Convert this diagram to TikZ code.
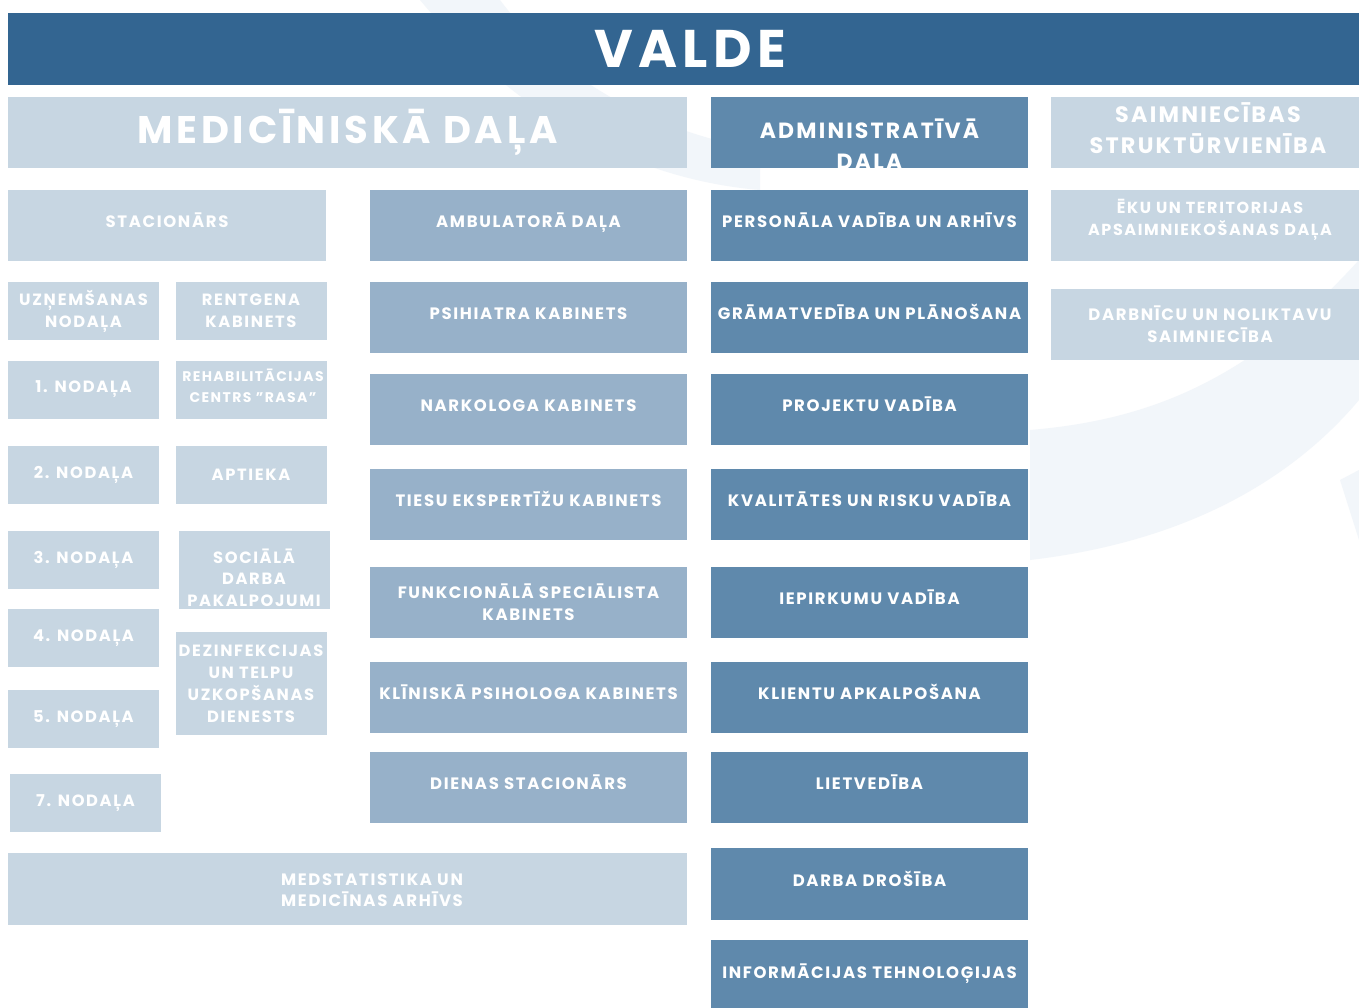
\documentclass[tikz,border=0pt]{standalone}
\usepackage{fontspec}
\setmainfont{Poppins}[LetterSpace=10]
\definecolor{valdeblue}{RGB}{51,101,145}
\definecolor{paleblue}{RGB}{199,214,226}
\definecolor{midblue}{RGB}{151,177,201}
\definecolor{admblue}{RGB}{95,137,172}
\definecolor{swoosh}{RGB}{242,246,250}
\begin{document}
\begin{tikzpicture}[x=1pt,y=-1pt,
    box/.style={inner sep=0pt, align=center, text=white, font=\bfseries\fontsize{16.5}{22}\selectfont},
    bigbox/.style={box, minimum width=317pt, minimum height=71pt},
    rowbox/.style={bigbox, text height=8pt, text depth=4pt},
    smallbox/.style={box, fill=paleblue, minimum width=151pt, minimum height=58pt, font=\bfseries\fontsize{16.3}{22}\selectfont},
    headbox/.style={box, minimum height=71pt, font=\bfseries\fontsize{22}{31}\selectfont}]
            \useasboundingbox (0,0) rectangle (1359,1008);
            \fill[white] (0,0) rectangle (1359,1008);
            % faint background swooshes
            \fill[swoosh] (420,0) .. controls (520,120) and (640,180) .. (760,190) -- (760,150) .. controls (650,130) and (560,80) .. (500,0) -- cycle;
            \fill[swoosh] (1030,560) .. controls (1200,540) and (1300,470) .. (1359,400) -- (1359,260) .. controls (1250,380) and (1150,420) .. (1030,430) -- cycle;
            \fill[swoosh] (1340,480) .. controls (1350,510) .. (1359,540) -- (1359,470) -- cycle;

            \node[box, fill=valdeblue, minimum width=1364pt, minimum height=72pt, font=\bfseries\fontsize{53}{60}\selectfont] (valde) at (690,49) {VALDE};

            \node[headbox, fill=paleblue, minimum width=679pt, font=\bfseries\fontsize{38.5}{40}\selectfont] (med) at (347.5,132.5) {MEDICĪNISKĀ DAĻA};
            \node[headbox, fill=admblue, minimum width=317pt] (adm) at (869.5,132.5) {};
            \node[box, font=\bfseries\fontsize{22}{31}\selectfont] (admtext) at (869.5,147.5) {ADMINISTRATĪVĀ\\DAĻA};
            \node[headbox, fill=paleblue, minimum width=308pt] (saim) at (1205,132.5) {};
            \node[box, font=\bfseries\fontsize{22.3}{31}\selectfont] (saimtext) at (1208,128.5) {SAIMNIECĪBAS\\STRUKTŪRVIENĪBA};

            % stacionars
            \node[rowbox, fill=paleblue, minimum width=318pt] (stac) at (167,225.5) {STACIONĀRS};
            \node[smallbox] (uzn) at (83.5,311) {UZŅEMŠANAS\\NODAĻA};
            \node[smallbox] (n1) at (83.5,389.5) {1. NODAĻA};
            \node[smallbox] (n2) at (83.5,474.5) {2. NODAĻA};
            \node[smallbox] (n3) at (83.5,560) {3. NODAĻA};
            \node[smallbox] (n4) at (83.5,638) {4. NODAĻA};
            \node[smallbox] (n5) at (83.5,719) {5. NODAĻA};
            \node[smallbox] (n7) at (85.5,803) {7. NODAĻA};
            \node[smallbox] (rentg) at (251,311) {RENTGENA\\KABINETS};
            \node[smallbox] (rehab) at (251,389.5) {};
            \node[box, font=\bfseries\fontsize{14}{21}\selectfont] (rehabtext) at (253,385.5) {REHABILITĀCIJAS\\CENTRS "RASA"};
            \node[smallbox] (aptieka) at (251,474.5) {APTIEKA};
            \node[smallbox, minimum height=78pt] (soc) at (254,570) {};
            \node[box, font=\bfseries\fontsize{16.3}{21.5}\selectfont] (soctext) at (254,577.5) {SOCIĀLĀ\\DARBA\\PAKALPOJUMI};
            \node[smallbox, minimum height=103pt] (dezinf) at (251,683.5) {DEZINFEKCIJAS\\UN TELPU\\UZKOPŠANAS\\DIENESTS};

            % ambulatora dala
            \node[rowbox, fill=midblue] (amb) at (528.5,225.5) {AMBULATORĀ DAĻA};
            \node[rowbox, fill=midblue] (psih) at (528.5,317.5) {PSIHIATRA KABINETS};
            \node[rowbox, fill=midblue] (nark) at (528.5,409.5) {NARKOLOGA KABINETS};
            \node[rowbox, fill=midblue] (tiesu) at (528.5,504) {TIESU EKSPERTĪŽU KABINETS};
            \node[bigbox, fill=midblue] (funk) at (528.5,602.5) {FUNKCIONĀLĀ SPECIĀLISTA\\KABINETS};
            \node[rowbox, fill=midblue] (klin) at (528.5,697.5) {KLĪNISKĀ PSIHOLOGA KABINETS};
            \node[rowbox, fill=midblue] (dien) at (528.5,787.5) {DIENAS STACIONĀRS};

            \node[bigbox, fill=paleblue, minimum width=679pt, minimum height=72pt] (medstat) at (347.5,889) {};
            \node[box, font=\bfseries\fontsize{16.5}{21}\selectfont] (medstattext) at (372,890) {MEDSTATISTIKA UN\\MEDICĪNAS ARHĪVS};

            % administrativa dala
            \node[rowbox, fill=admblue] (pers) at (869.5,225.5) {PERSONĀLA VADĪBA UN ARHĪVS};
            \node[rowbox, fill=admblue] (gram) at (869.5,317.5) {GRĀMATVEDĪBA UN PLĀNOŠANA};
            \node[rowbox, fill=admblue] (proj) at (869.5,409.5) {PROJEKTU VADĪBA};
            \node[rowbox, fill=admblue] (kval) at (869.5,504) {KVALITĀTES UN RISKU VADĪBA};
            \node[rowbox, fill=admblue] (iepirk) at (869.5,602.5) {IEPIRKUMU VADĪBA};
            \node[rowbox, fill=admblue] (klient) at (869.5,697.5) {KLIENTU APKALPOŠANA};
            \node[rowbox, fill=admblue] (lietv) at (869.5,787.5) {LIETVEDĪBA};
            \node[rowbox, fill=admblue, minimum height=72pt] (drosiba) at (869.5,884) {DARBA DROŠĪBA};
            \node[rowbox, fill=admblue, minimum height=72pt] (it) at (869.5,976) {INFORMĀCIJAS TEHNOLOĢIJAS};

            % saimniecibas struktūrvieniba
            \node[bigbox, fill=paleblue, minimum width=308pt] (eku) at (1205,225.5) {};
            \node[box, font=\bfseries\fontsize{16}{22}\selectfont] (ekutext) at (1210,220) {ĒKU UN TERITORIJAS\\APSAIMNIEKOŠANAS DAĻA};
            \node[bigbox, fill=paleblue, minimum width=308pt] (darbn) at (1205,324.5) {};
            \node[box] (darbntext) at (1210,324) {DARBNĪCU UN NOLIKTAVU\\SAIMNIECĪBA};

        \end{tikzpicture}
\end{document}
